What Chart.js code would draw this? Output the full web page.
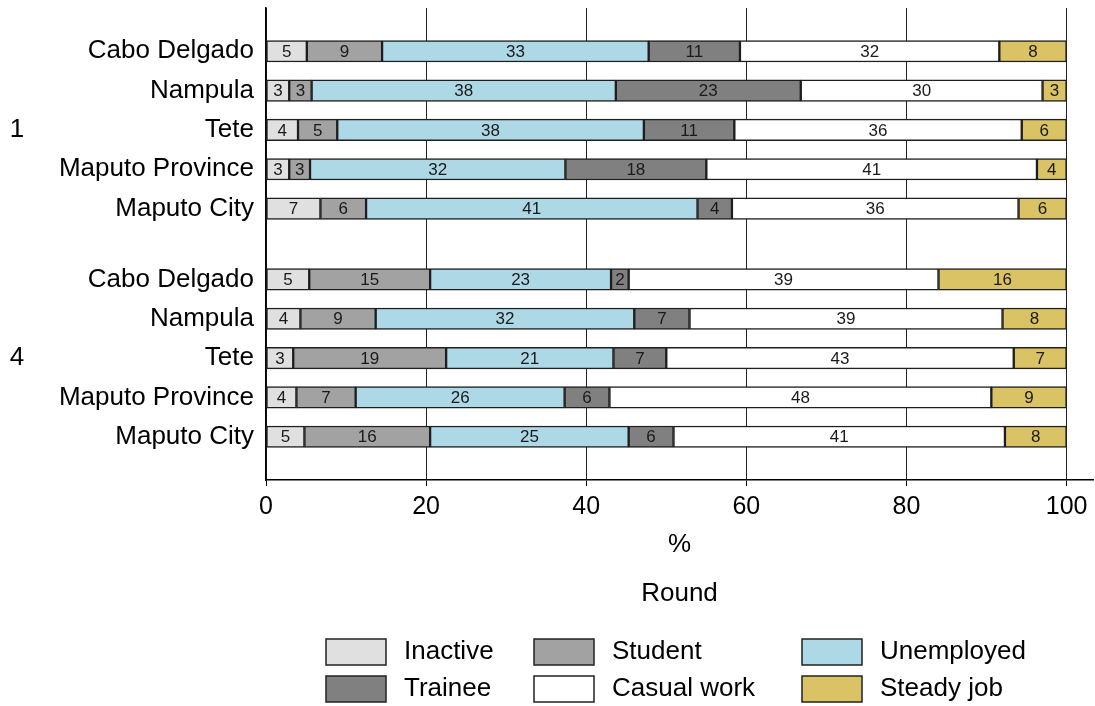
<!DOCTYPE html>
<html>
<head>
  <title>Activity status by province and round</title>
  <script src="https://cdn.jsdelivr.net/npm/chart.js"></script>
  <style>body { margin: 0; background: #fff; }</style>
</head>
<body>
  <canvas id="statusChart" width="1095" height="706"></canvas>
  <script>
    const rounds = ["1", "4"];
    const regions = ["Cabo Delgado", "Nampula", "Tete", "Maputo Province", "Maputo City"];
    const statuses = ["Inactive", "Student", "Unemployed", "Trainee", "Casual work", "Steady job"];

    // % per row: round 1 provinces first, then round 4 provinces
    const inactive   = [5.1, 2.9, 4.0, 2.9, 6.8,   5.4, 4.3, 3.4, 3.8, 4.8];
    const student    = [9.4, 2.8, 4.9, 2.6, 5.7,   15.1, 9.4, 19.1, 7.4, 15.7];
    const unemployed = [33.3, 38.0, 38.3, 31.9, 41.4,   22.6, 32.3, 20.9, 26.1, 24.8];
    const trainee    = [11.4, 23.1, 11.3, 17.6, 4.3,   2.2, 6.9, 6.6, 5.6, 5.6];
    const casual     = [32.4, 30.2, 35.9, 41.3, 35.8,   38.7, 39.1, 43.4, 47.7, 41.4];
    const steady     = [8.4, 3.0, 5.6, 3.7, 6.0,   16.0, 8.0, 6.6, 9.4, 7.7];

    const xTicks = [0, 20, 40, 60, 80, 100];

    const series = [inactive, student, unemployed, trainee, casual, steady];
    const colors = ["#e0e0e0", "#a2a2a2", "#add8e6", "#808080", "#ffffff", "#d9c365"];
    const FONT = "'Liberation Sans', Arial, Helvetica, sans-serif";

    // y positions of the rows, rounds separated by a smaller gap than a full row
    const rowPos = [];
    const rowLabel = [];
    rounds.forEach((r, g) => {
      regions.forEach((name, i) => {
        rowPos.push(g * (regions.length + 0.8) + i);
        rowLabel.push(name);
      });
    });

    const datasets = statuses.map((s, d) => ({
      label: s,
      data: series[d].map((v, k) => ({ x: v, y: rowPos[k] })),
      backgroundColor: colors[d],
      borderColor: "#1e1e1e",
      borderWidth: 1.5,
      borderSkipped: false,
      barThickness: 21.5
    }));

    const extras = {
      id: "extras",
      afterDatasetsDraw(chart) {
        const ctx = chart.ctx;
        ctx.save();
        ctx.font = "17px " + FONT;
        ctx.fillStyle = "#1a1a1a";
        ctx.textAlign = "center";
        ctx.textBaseline = "middle";
        chart.data.datasets.forEach((ds, d) => {
          chart.getDatasetMeta(d).data.forEach((bar, k) => {
            ctx.fillText(Math.round(ds.data[k].x), (bar.x + bar.base) / 2, bar.y + 1);
          });
        });
        ctx.restore();
      },
      afterDraw(chart) {
        const { ctx, chartArea, scales } = chart;
        ctx.save();
        ctx.font = "26px " + FONT;
        ctx.fillStyle = "#000";
        ctx.textBaseline = "middle";
        ctx.textAlign = "center";
        // round number next to the middle province of each group
        rounds.forEach((r, g) => {
          const mid = rowPos[g * regions.length + Math.floor(regions.length / 2)];
          ctx.fillText(r, 17, scales.y.getPixelForValue(mid));
        });
        const cx = (chartArea.left + chartArea.right) / 2;
        ctx.fillText("%", cx, 545);
        ctx.fillText("Round", cx, 594);

        // legend in three columns
        const colX = [326, 534, 802];
        statuses.forEach((s, i) => {
          const x = colX[i % 3];
          const y = 652 + Math.floor(i / 3) * 37;
          ctx.fillStyle = colors[i];
          ctx.fillRect(x, y - 13, 60, 26);
          ctx.strokeStyle = "#222";
          ctx.lineWidth = 1.5;
          ctx.strokeRect(x, y - 13, 60, 26);
          ctx.fillStyle = "#000";
          ctx.textAlign = "left";
          ctx.fillText(s, x + 78, y);
        });
        ctx.restore();
      }
    };

    new Chart(document.getElementById("statusChart"), {
      type: "bar",
      data: { datasets: datasets },
      plugins: [extras],
      options: {
        responsive: false,
        animation: false,
        indexAxis: "y",
        layout: { padding: { top: 8, right: 2, left: 0, bottom: 0 } },
        plugins: { legend: { display: false }, tooltip: { enabled: false } },
        scales: {
          x: {
            type: "linear",
            stacked: true,
            min: 0,
            max: 103.3,
            afterFit: s => { s.height = 226; s.paddingLeft = 0; s.paddingRight = 0; },
            afterBuildTicks: s => { s.ticks = xTicks.map(v => ({ value: v })); },
            ticks: { padding: 6, color: "#000", font: { family: FONT, size: 25 } },
            grid: { color: "#222", lineWidth: 1, tickLength: 6, tickColor: "#000" },
            border: { color: "#000", width: 1.5 }
          },
          y: {
            type: "linear",
            stacked: true,
            reverse: true,
            offset: false,
            min: -1.1,
            max: 10.9,
            afterFit: s => { s.width = 266; s.paddingTop = 0; s.paddingBottom = 0; },
            afterBuildTicks: s => { s.ticks = rowPos.map(v => ({ value: v })); },
            ticks: {
              padding: 12,
              color: "#000",
              font: { family: FONT, size: 26 },
              callback: (v, i) => rowLabel[i]
            },
            grid: { display: false, drawTicks: false },
            border: { color: "#000", width: 1.5 }
          }
        }
      }
    });
  </script>
</body>
</html>
